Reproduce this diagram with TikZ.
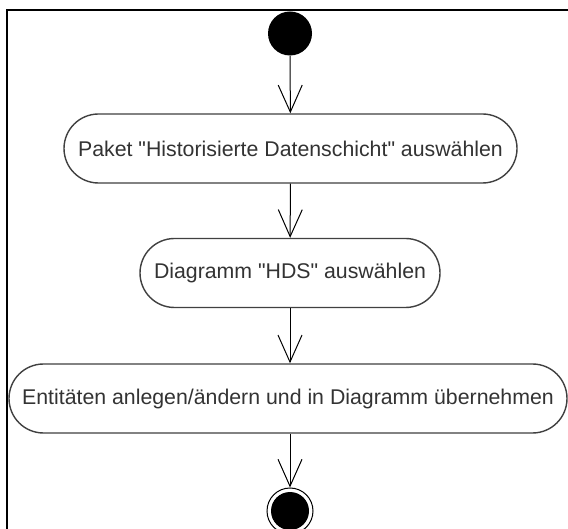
\documentclass[tikz,border=0pt]{standalone}
\usepackage{fontspec}
\setmainfont{Liberation Sans}
\usetikzlibrary{shapes.misc,arrows.meta}
\definecolor{boxline}{HTML}{404040}
\definecolor{txt}{HTML}{333333}
\newcommand{\dq}{\textquotedbl}
\tikzset{
  action/.style={rounded rectangle, draw=boxline, line width=1.4pt, fill=white,
    minimum height=69pt, inner sep=0pt, text=txt, font=\fontsize{21.3}{24}\selectfont},
  flow/.style={line width=1pt, -{Straight Barb[length=27pt,width=24pt,line width=1pt]}},
}
\begin{document}
\begin{tikzpicture}[x=1pt,y=-1pt]
\useasboundingbox (0,0) rectangle (568,529);
\clip (0,0) rectangle (568,529);
\fill[white] (0,0) rectangle (568,529);
\draw[line width=1.2pt] (7,10) rectangle (620,580);
\node[circle, fill=black, minimum size=44pt, inner sep=0pt] (start) at (290,33.5) {};
\node[action, minimum width=453pt] (a1) at (290.5,148.5) {Paket \dq Historisierte Datenschicht\dq{} auswählen};
\node[action, minimum width=300pt] (a2) at (290,273) {Diagramm \dq HDS\dq{} auswählen};
\node[action, minimum width=558pt] (a3) at (288,398.5) {Entitäten anlegen/ändern und in Diagramm übernehmen};
\node[circle, draw=black, line width=1pt, fill=white, minimum size=46pt, inner sep=0pt] (endo) at (290,511) {};
\node[circle, fill=black, minimum size=38pt, inner sep=0pt] (endi) at (endo) {};
\draw[flow] (start) -- (a1);
\draw[flow] (a1) -- (a2);
\draw[flow] (a2.south) -- (a2.south |- a3.north);
\draw[flow] (a3.south -| endo.north) -- (endo.north);
\end{tikzpicture}
\end{document}
